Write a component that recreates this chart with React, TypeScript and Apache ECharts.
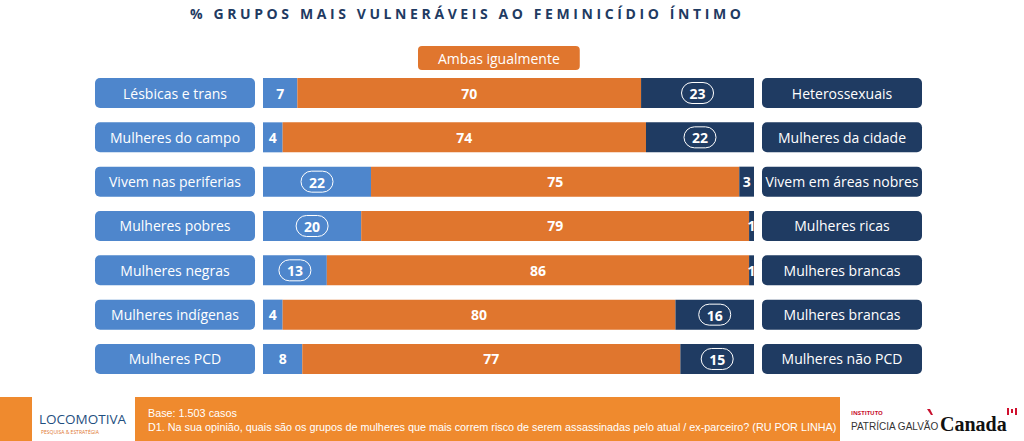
import React, { useEffect, useRef } from "react";
import * as echarts from "echarts";

const titleText = "% GRUPOS MAIS VULNERÁVEIS AO FEMINICÍDIO ÍNTIMO";
const leftCategories = [
  "Lésbicas e trans",
  "Mulheres do campo",
  "Vivem nas periferias",
  "Mulheres pobres",
  "Mulheres negras",
  "Mulheres indígenas",
  "Mulheres PCD",
];
const rightCategories = [
  "Heterossexuais",
  "Mulheres da cidade",
  "Vivem em áreas nobres",
  "Mulheres ricas",
  "Mulheres brancas",
  "Mulheres brancas",
  "Mulheres não PCD",
];
const middleName = "Ambas igualmente";
const leftValues = [7, 4, 22, 20, 13, 4, 8];
const middleValues = [70, 74, 75, 79, 86, 80, 77];
const rightValues = [23, 22, 3, 1, 1, 16, 15];
const leftCircled = [false, false, true, true, true, false, false];
const rightCircled = [true, true, false, false, false, true, true];
const baseText = "Base: 1.503 casos";
const questionText =
  "D1. Na sua opinião, quais são os grupos de mulheres que mais correm risco de serem assassinadas pelo atual / ex-parceiro? (RU POR LINHA)";

const LIGHT = "#4e86cc";
const ORANGE = "#e0762e";
const NAVY = "#1f3b62";
const FOOT = "#ef8a2e";
const FONT = "'Open Sans', 'Noto Sans', sans-serif";
const NARROW = "'Liberation Sans', sans-serif";

function makeData(vals: number[], circled: boolean[]) {
  return vals.map((v, i) =>
    circled[i] ? { value: v, label: { formatter: "{r|{c}}" } } : { value: v }
  );
}

const seriesLabel = {
  show: true,
  position: "inside",
  color: "#fff",
  fontFamily: FONT,
  fontWeight: "bold",
  fontSize: 14,
  formatter: "{c}",
  rich: {
    r: {
      color: "#fff",
      fontFamily: FONT,
      fontWeight: "bold",
      fontSize: 14,
      borderColor: "#fff",
      borderWidth: 1,
      borderRadius: 12,
      padding: [4, 8, 3, 8],
    },
  },
};

export default function App() {
  const ref = useRef<HTMLDivElement>(null);
  useEffect(() => {
    if (!ref.current) return;
    const chart = echarts.init(ref.current, undefined, { renderer: "svg" });
    const band = 44.33;
    const top = 93 - band / 2;
    const option: any = {
      animation: false,
      backgroundColor: "#fff",
      legend: {
        data: [middleName],
        left: 408,
        top: 41,
        icon: "none",
        itemWidth: 0,
        itemHeight: 0,
        selectedMode: false,
        textStyle: {
          color: "#fff",
          fontFamily: FONT,
          fontSize: 14,
          backgroundColor: ORANGE,
          borderRadius: 4,
          padding: [4, 20, 3, 20],
          lineHeight: 17,
        },
      },
      grid: {
        left: 263,
        right: 1024 - 754,
        top: top,
        height: band * 7,
        containLabel: false,
      },
      xAxis: {
        type: "value",
        min: 0,
        max: 100,
        show: false,
      },
      yAxis: [
        {
          type: "category",
          data: leftCategories,
          inverse: true,
          position: "left",
          axisLine: { show: false },
          axisTick: { show: false },
          axisLabel: {
            margin: 8,
            formatter: (v: string) => `{b|${v}}`,
            rich: {
              b: {
                width: 160,
                height: 30,
                lineHeight: 30,
                align: "center",
                backgroundColor: LIGHT,
                borderRadius: 5,
                color: "#fff",
                fontFamily: FONT,
                fontSize: 14,
              },
            },
          },
        },
        {
          type: "category",
          data: rightCategories,
          inverse: true,
          position: "right",
          axisLine: { show: false },
          axisTick: { show: false },
          axisLabel: {
            margin: 8,
            formatter: (v: string) => `{b|${v}}`,
            rich: {
              b: {
                width: 160,
                height: 30,
                lineHeight: 30,
                align: "center",
                backgroundColor: NAVY,
                borderRadius: 5,
                color: "#fff",
                fontFamily: FONT,
                fontSize: 14,
              },
            },
          },
        },
      ],
      series: [
        {
          name: "Esquerda",
          type: "bar",
          stack: "t",
          barWidth: 30,
          yAxisIndex: 0,
          itemStyle: { color: LIGHT },
          label: seriesLabel,
          data: makeData(leftValues, leftCircled),
        },
        {
          name: middleName,
          type: "bar",
          stack: "t",
          barWidth: 30,
          yAxisIndex: 0,
          itemStyle: { color: ORANGE },
          label: seriesLabel,
          data: middleValues,
        },
        {
          name: "Direita",
          type: "bar",
          stack: "t",
          barWidth: 30,
          yAxisIndex: 0,
          itemStyle: { color: NAVY },
          label: seriesLabel,
          data: makeData(rightValues, rightCircled),
        },
      ],
      graphic: [
        { type: "rect", shape: { x: 0, y: 397, width: 32, height: 44 }, style: { fill: FOOT } },
        { type: "rect", shape: { x: 135, y: 397, width: 705, height: 44 }, style: { fill: FOOT } },
        {
          type: "text",
          x: 148,
          y: 413,
          style: { text: baseText, fill: "#fff", font: `10.8px ${NARROW}`, verticalAlign: "middle" },
        },
        {
          type: "text",
          x: 148,
          y: 427,
          style: { text: questionText, fill: "#fff", font: `10.8px ${NARROW}`, verticalAlign: "middle" },
        },
        {
          type: "text",
          x: 39,
          y: 419,
          style: { text: "LOCOMOTIVA", fill: "#1f4f80", font: `13.5px ${FONT}`, verticalAlign: "middle" },
        },
        {
          type: "text",
          x: 41,
          y: 432,
          style: { text: "PESQUISA & ESTRATÉGIA", fill: "#e0762e", font: `5px ${FONT}`, verticalAlign: "middle" },
        },
        {
          type: "text",
          x: 851,
          y: 413,
          style: { text: "INSTITUTO", fill: "#c8102e", font: `bold 6px ${FONT}`, verticalAlign: "middle" },
        },
        {
          type: "text",
          x: 851,
          y: 426,
          style: { text: "PATRÍCIA GALVÃO", fill: "#333", font: `10px ${NARROW}`, verticalAlign: "middle" },
        },
        {
          type: "polygon",
          shape: { points: [[927, 409], [930, 409], [933, 415], [931, 415]] },
          style: { fill: "#c8102e" },
        },
        {
          type: "text",
          x: 940,
          y: 424,
          style: {
            text: "Canada",
            fill: "#111",
            font: `bold 20px 'Liberation Serif', 'DejaVu Serif', serif`,
            verticalAlign: "middle",
          },
        },
        { type: "rect", shape: { x: 1007, y: 408, width: 2, height: 7 }, style: { fill: "#d0102e" } },
        { type: "rect", shape: { x: 1015, y: 408, width: 2, height: 7 }, style: { fill: "#d0102e" } },
        { type: "rect", shape: { x: 1011, y: 409, width: 2, height: 4 }, style: { fill: "#d0102e" } },
      ],
    };
    chart.setOption(option);
    return () => chart.dispose();
  }, []);

  return (
    <div style={{ position: "fixed", left: 0, top: 0, width: 1024, height: 441, background: "#fff" }}>
      <div ref={ref} style={{ position: "absolute", left: 0, top: 0, width: 1024, height: 441 }} />
      <div
        style={{
          position: "absolute",
          left: 190,
          top: 5,
          font: `bold 14px ${FONT}`,
          letterSpacing: "3.6px",
          color: NAVY,
          whiteSpace: "nowrap",
          lineHeight: "18px",
        }}
      >
        {titleText}
      </div>
    </div>
  );
}
